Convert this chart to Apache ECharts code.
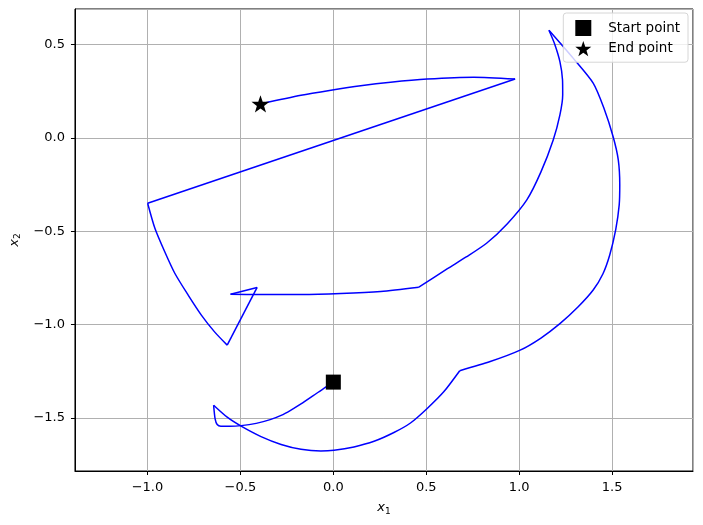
<!DOCTYPE html>
<html>
<head>
<meta charset="utf-8">
<script src="https://cdn.jsdelivr.net/npm/echarts@6/dist/echarts.min.js"></script>
<style>
  html, body { margin: 0; padding: 0; background: #fff; }
  #main { width: 703px; height: 525px; }
</style>
</head>
<body>
<div id="main"></div>
<script>
// trajectory (x1, x2)
const trajX1 = [
  0.000, -0.049, -0.110, -0.174, -0.230, -0.281, -0.340, -0.415, -0.496, -0.560,
  -0.605, -0.625, -0.636, -0.644,
  -0.571, -0.496, -0.389, -0.281, -0.174, -0.067, 0.004, 0.111, 0.219, 0.326,
  0.415, 0.505, 0.594, 0.680,
  0.844, 1.005, 1.117, 1.219, 1.316, 1.398, 1.450, 1.487, 1.519, 1.538,
  1.541, 1.533, 1.505, 1.455, 1.398, 1.290, 1.219, 1.160,
  1.192, 1.219, 1.233, 1.234, 1.219, 1.183, 1.117, 1.041, 0.935, 0.826,
  0.715, 0.612, 0.460,
  0.255, 0.040, -0.174, -0.389, -0.553,
  -0.410,
  -0.571, -0.639, -0.710, -0.781, -0.853, -0.907, -0.960, -0.999,
  0.978, 0.755, 0.505, 0.308, 0.147, -0.013, -0.174, -0.392
]
const trajX2 = [
  -1.308, -1.340, -1.382, -1.425, -1.459, -1.486, -1.509, -1.529, -1.541, -1.544,
  -1.544, -1.535, -1.505, -1.432,
  -1.496, -1.544, -1.600, -1.642, -1.668, -1.677, -1.673, -1.655, -1.625, -1.578,
  -1.527, -1.449, -1.360, -1.247,
  -1.198, -1.137, -1.072, -0.995, -0.906, -0.815, -0.729, -0.627, -0.493, -0.359,
  -0.252, -0.118, 0.007, 0.161, 0.293, 0.427, 0.509, 0.576,
  0.499, 0.408, 0.311, 0.231, 0.123, -0.011, -0.182, -0.332, -0.461, -0.563,
  -0.638, -0.702, -0.800,
  -0.823, -0.834, -0.839, -0.839, -0.838,
  -0.801,
  -1.110, -1.039, -0.949, -0.842, -0.725, -0.610, -0.484, -0.350,
  0.315, 0.325, 0.315, 0.298, 0.279, 0.255, 0.228, 0.182
]
// indices where the trajectory has a sharp corner
const corners = [0, 13, 27, 45, 58, 63, 64, 65, 72, 73, 80]
const startPoint = [0.0, -1.308]
const endPoint = [-0.392, 0.182]
const xRange = [-1.39, 1.935]
const yRange = [-1.784, 0.69]

const starPath = 'path://M0,-10 L2.35,-3.24 L9.51,-3.09 L3.8,1.24 L5.88,8.09 L0,4 L-5.88,8.09 L-3.8,1.24 L-9.51,-3.09 L-2.35,-3.24 Z'

const chart = echarts.init(document.getElementById('main'))

function fmt(v) {
  return v.toFixed(1).replace('-', '\u2212')
}

const axisFont = { fontFamily: 'DejaVu Sans', fontSize: 13, color: '#000' }
const nameRich = {
  a: { fontFamily: 'DejaVu Sans', fontStyle: 'italic', fontSize: 13, color: '#000' },
  b: { fontFamily: 'DejaVu Sans', fontSize: 9, color: '#000', padding: [7, 0, 0, 0] }
}

// one smooth piece between each pair of corners
const pieces = []
for (let k = 0; k < corners.length - 1; k++) {
  const pts = []
  for (let i = corners[k]; i <= corners[k + 1]; i++) pts.push([trajX1[i], trajX2[i]])
  pieces.push({
    type: 'line',
    showSymbol: false,
    symbol: 'none',
    smooth: pts.length > 2 ? 0.25 : false,
    lineStyle: { color: '#0000ff', width: 1.5 },
    data: pts,
    z: 2,
    silent: true
  })
}

const option = {
  backgroundColor: '#fff',
  animation: false,
  grid: {
    left: 73,
    top: 9,
    right: 10,
    bottom: 54,
    show: true,
    borderColor: '#000',
    borderWidth: 1
  },
  legend: {
    orient: 'vertical',
    right: 15,
    top: 13,
    itemWidth: 16,
    itemHeight: 16,
    itemGap: 5,
    padding: [7, 8, 6, 12],
    backgroundColor: 'rgba(255,255,255,0.8)',
    borderColor: '#d6d6d6',
    borderWidth: 1,
    borderRadius: 3,
    textStyle: { fontFamily: 'DejaVu Sans', fontSize: 13.5, color: '#000', padding: [0, 0, 0, 12] },
    data: [
      { name: 'Start point', icon: 'rect' },
      { name: 'End point', icon: starPath }
    ]
  },
  xAxis: {
    type: 'value',
    min: xRange[0],
    max: xRange[1],
    splitNumber: 6,
    name: '{a|x}{b|1}',
    nameLocation: 'middle',
    nameGap: 29,
    nameTextStyle: { rich: nameRich },
    axisLine: { show: true, onZero: false, lineStyle: { color: '#000', width: 1 } },
    axisTick: { show: true, length: 4, lineStyle: { color: '#000' } },
    axisLabel: { ...axisFont, margin: 10, showMinLabel: false, showMaxLabel: false, formatter: fmt },
    splitLine: { show: true, lineStyle: { color: '#b0b0b0', width: 1 } }
  },
  yAxis: {
    type: 'value',
    min: yRange[0],
    max: yRange[1],
    splitNumber: 5,
    name: '{a|x}{b|2}',
    nameLocation: 'middle',
    nameGap: 52,
    nameTextStyle: { rich: nameRich },
    axisLine: { show: true, onZero: false, lineStyle: { color: '#000', width: 1 } },
    axisTick: { show: true, length: 4, lineStyle: { color: '#000' } },
    axisLabel: { ...axisFont, margin: 10, showMinLabel: false, showMaxLabel: false, formatter: fmt },
    splitLine: { show: true, lineStyle: { color: '#b0b0b0', width: 1 } }
  },
  series: pieces.concat([
    {
      name: 'Start point',
      type: 'scatter',
      symbol: 'rect',
      symbolSize: 15,
      itemStyle: { color: '#000', opacity: 1 },
      data: [startPoint],
      z: 3
    },
    {
      name: 'End point',
      type: 'scatter',
      symbol: starPath,
      symbolKeepAspect: true,
      symbolSize: 18,
      itemStyle: { color: '#000', opacity: 1 },
      data: [endPoint],
      z: 3
    }
  ])
}

chart.setOption(option)
</script>
</body>
</html>
